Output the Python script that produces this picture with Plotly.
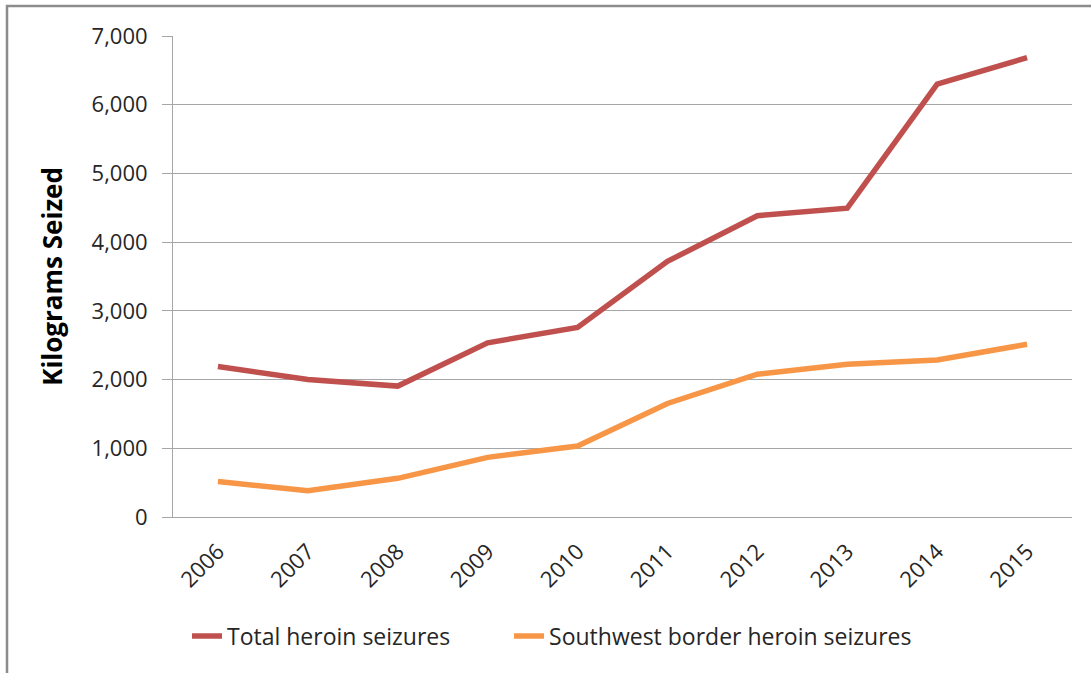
import plotly.graph_objects as go

years = ["2006", "2007", "2008", "2009", "2010", "2011", "2012", "2013", "2014", "2015"]
total_seizures = [2190, 2000, 1905, 2535, 2760, 3720, 4385, 4495, 6300, 6685]
southwest_seizures = [515, 383, 563, 868, 1033, 1652, 2078, 2222, 2286, 2513]
y_ticks = [0, 1000, 2000, 3000, 4000, 5000, 6000, 7000]
series_names = ["Total heroin seizures", "Southwest border heroin seizures"]

FONT = "'Open Sans', Lato, sans-serif"
TXT = "#262626"
PAD = "\u00a0" * 9  # spacing between legend entries

fig = go.Figure()
fig.add_trace(go.Scatter(x=years, y=total_seizures, mode="lines",
                         name=series_names[0] + PAD,
                         line=dict(color="#C0504D", width=5.5)))
fig.add_trace(go.Scatter(x=years, y=southwest_seizures, mode="lines",
                         name=series_names[1],
                         line=dict(color="#F79646", width=5.5)))

L, R, T, B = 173, 19, 36, 156
W, H = 1091, 673
pw, ph = W - L - R, H - T - B

fig.update_layout(
    width=W, height=H,
    margin=dict(l=L, r=R, t=T, b=B),
    paper_bgcolor="white", plot_bgcolor="white",
    font=dict(family=FONT, size=22, color=TXT),
    showlegend=True,
    legend=dict(orientation="h", x=(187 - L) / pw, xanchor="left",
                y=(T + ph - 636) / ph, yanchor="middle",
                font=dict(size=23, color=TXT),
                tracegroupgap=0),
    xaxis=dict(type="category", tickangle=-45, showgrid=False,
               showline=True, linecolor="#A6A6A6", linewidth=1,
               ticks="", ticklabelstandoff=12,
               tickfont=dict(size=22, color=TXT),
               range=[-0.5, 9.5]),
    yaxis=dict(range=[0, 7000], tickvals=y_ticks,
               tickformat=",d", showgrid=True, gridcolor="#A6A6A6",
               gridwidth=1, showline=True, linecolor="#A6A6A6",
               linewidth=1, ticks="outside", ticklen=10,
               tickcolor="#A6A6A6", zeroline=False,
               ticklabelstandoff=10,
               tickfont=dict(size=22, color=TXT),
               title=dict(text="<b>Kilograms Seized</b>",
                          font=dict(size=26, color="#000000"),
                          standoff=21)),
)

# outer chart frame (runs past the right and bottom edges, as in the source)
fig.add_shape(type="rect", xref="paper", yref="paper",
              x0=(7 - L) / pw, x1=(W + 20 - L) / pw,
              y0=(T + ph - (H + 20)) / ph, y1=(T + ph - 6) / ph,
              line=dict(color="#8C8C8C", width=2.5),
              fillcolor="rgba(0,0,0,0)", layer="below")

fig.write_html("out.html",
               config={"displayModeBar": False},
               post_script="document.body.style.margin='0';"
                           "document.body.style.overflow='hidden';")
